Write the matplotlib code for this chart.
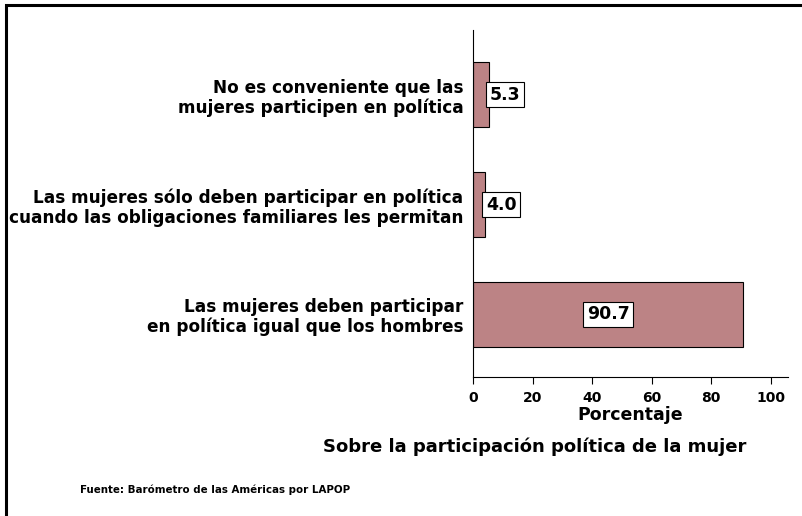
import numpy as np
import matplotlib.pyplot as plt
from matplotlib.patches import Rectangle

plt.rcParams['font.family'] = ['DejaVu Sans']

categorias = [
    "Las mujeres deben participar\nen política igual que los hombres",
    "Las mujeres sólo deben participar en política\ncuando las obligaciones familiares les permitan",
    "No es conveniente que las\nmujeres participen en política",
]
porcentajes = [90.7, 4.0, 5.3]
ticks_x = [0, 20, 40, 60, 80, 100]

fig = plt.figure(figsize=(8.02, 5.16), dpi=100)
ax = fig.add_axes([0.5898, 0.2694, 0.3927, 0.6725])

ypos = np.arange(len(categorias))
ax.barh(ypos, porcentajes, height=0.59, color='#bc8385', edgecolor='black', linewidth=0.8)

xmax = 105.8
ax.set_xlim(0, xmax)
ax.set_ylim(-0.57, 2.59)

for y, v in zip(ypos, porcentajes):
    if v > 30:
        x, ha = v / 2, 'center'
    else:
        x, ha = v + 0.3, 'left'
    ax.text(x, y, f'{v:.1f}', ha=ha, va='center', fontsize=12.5, fontweight='bold',
            bbox=dict(boxstyle='square,pad=0.2', fc='white', ec='black', lw=0.8))

ax.set_yticks(ypos)
ax.set_yticklabels(categorias, fontsize=12.2, fontweight='bold', linespacing=1.12)
ax.tick_params(axis='y', length=0, pad=7)
ax.set_xticks(ticks_x)
ax.set_xticklabels([str(t) for t in ticks_x], fontsize=10, fontweight='bold')
ax.tick_params(axis='x', length=5, width=0.8, pad=5)
for s in ['top', 'right']:
    ax.spines[s].set_visible(False)
for s in ['left', 'bottom']:
    ax.spines[s].set_linewidth(0.8)

ax.set_xlabel('Porcentaje', fontsize=12.5, fontweight='bold', labelpad=1)

fig.text(535 / 802, 1 - 447 / 516, 'Sobre la participación política de la mujer',
         ha='center', va='center', fontsize=13, fontweight='bold')
fig.text(0.1, 1 - 490 / 516, 'Fuente: Barómetro de las Américas por LAPOP',
         ha='left', va='center', fontsize=7.4, fontweight='bold')

# marco exterior
fig.patches.append(Rectangle((6 / 802, -0.1), 1.2, 1 - 5 / 516 + 0.1,
                             transform=fig.transFigure, fill=False,
                             ec='black', lw=2.2))

fig.savefig('out.png', dpi=100)
